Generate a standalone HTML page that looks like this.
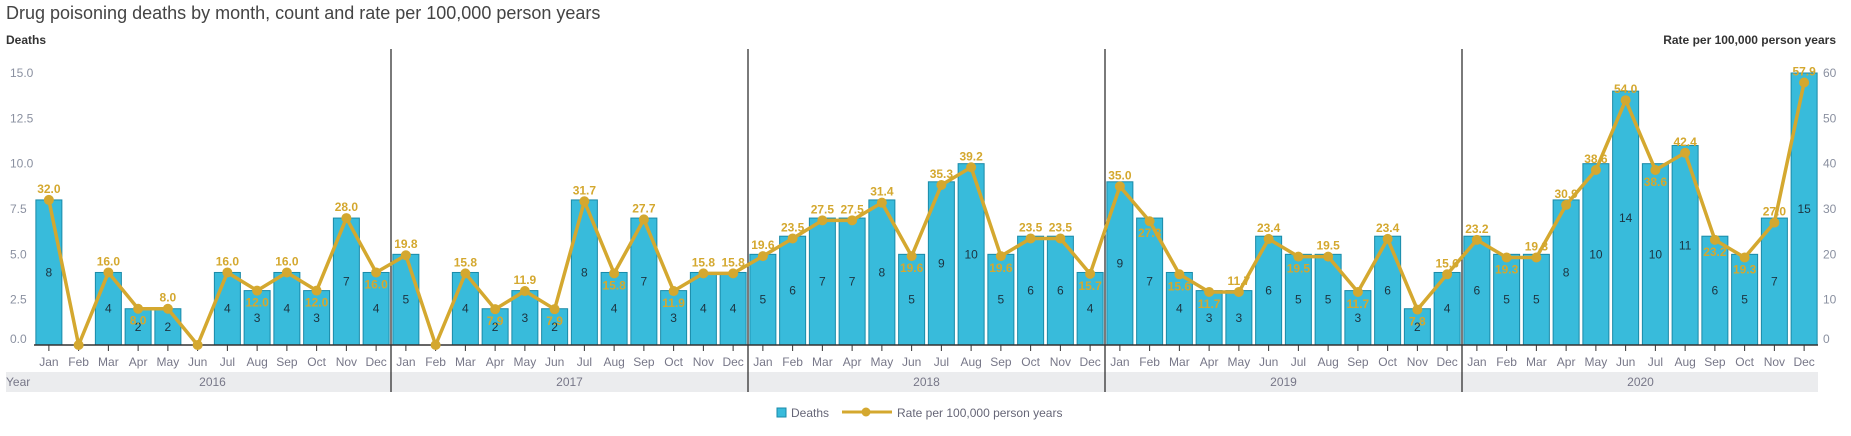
<!DOCTYPE html>
<html><head><meta charset="utf-8"><style>
body{margin:0;background:#fff;font-family:"Liberation Sans",sans-serif}
svg{display:block}
</style></head><body>
<svg id="c" width="1851" height="436" xmlns="http://www.w3.org/2000/svg">
<text x="6" y="19" font-size="18" fill="#444">Drug poisoning deaths by month, count and rate per 100,000 person years</text>
<text x="6" y="44" font-size="12" font-weight="bold" fill="#333">Deaths</text>
<text x="1836" y="44" font-size="12" font-weight="bold" fill="#333" text-anchor="end">Rate per 100,000 person years</text>
<g id="g"></g>
<g>
<rect x="777" y="408" width="9" height="9" fill="#38bbdb" stroke="#1a8aa8"/>
<text x="791" y="417" font-size="12" fill="#667">Deaths</text>
<line x1="842" y1="412" x2="892" y2="412" stroke="#d4a82f" stroke-width="3"/>
<circle cx="866" cy="412" r="4.5" fill="#d4a82f"/>
<text x="897" y="417" font-size="12" fill="#667">Rate per 100,000 person years</text>
</g>
</svg>
<script>
const years=["2016","2017","2018","2019","2020"];
const months=["Jan","Feb","Mar","Apr","May","Jun","Jul","Aug","Sep","Oct","Nov","Dec"];
const deaths=[8,0,4,2,2,0,4,3,4,3,7,4, 5,0,4,2,3,2,8,4,7,3,4,4, 5,6,7,7,8,5,9,10,5,6,6,4, 9,7,4,3,3,6,5,5,3,6,2,4, 6,5,5,8,10,14,10,11,6,5,7,15];
const rates=[32.0,0,16.0,8.0,8.0,0,16.0,12.0,16.0,12.0,28.0,16.0, 19.8,0,15.8,7.9,11.9,7.9,31.7,15.8,27.7,11.9,15.8,15.8, 19.6,23.5,27.5,27.5,31.4,19.6,35.3,39.2,19.6,23.5,23.5,15.7, 35.0,27.3,15.6,11.7,11.7,23.4,19.5,19.5,11.7,23.4,7.8,15.6, 23.2,19.3,19.3,30.9,38.6,54.0,38.6,42.4,23.2,19.3,27.0,57.9];
const leftTicks=[0,2.5,5,7.5,10,12.5,15];
const rightTicks=[0,10,20,30,40,50,60];

const NS="http://www.w3.org/2000/svg";
const g=document.getElementById('g');
const X0=34,STEP=29.75,BASE=345,TOP=73;
const yD=v=>BASE-(BASE-TOP)*v/15;
const yR=v=>BASE-(BASE-TOP)*v/60;
const xC=i=>X0+STEP*(i+0.5);
function el(t,a){const e=document.createElementNS(NS,t);for(const k in a)e.setAttribute(k,a[k]);g.appendChild(e);return e;}

// year band
let band=el('rect',{x:6,y:372,width:1812,height:20,fill:'#ebecee'});


let yl=el('text',{x:6,y:386,'font-size':12,fill:'#778'});yl.textContent='Year';



leftTicks.forEach(v=>{
  let y=yD(v)+4; if(v===0)y-=6;
  const t=el('text',{x:10,y:y,'font-size':12,fill:'#8a90a0'});t.textContent=v.toFixed(1);
  
  
});
rightTicks.forEach(v=>{
  let y=yR(v)+4; if(v===0)y-=6;
  const t=el('text',{x:1823,y:y,'font-size':12,fill:'#8a90a0'});t.textContent=v;
  
  
});

deaths.forEach((d,i)=>{
  const cx=xC(i);
  if(d>0){
    const b=el('rect',{x:cx-13,y:yD(d),width:26,height:BASE-yD(d),fill:'#38bbdb',stroke:'#1a8aa8','stroke-width':1});
    
    
    const t=el('text',{x:cx,y:(yD(d)+BASE)/2+4,'font-size':12,fill:'#1c3340','text-anchor':'middle'});t.textContent=d;
    
    
  }
  const tk=el('line',{x1:cx,y1:BASE,x2:cx,y2:351,stroke:'#333'});
  
  
  const m=el('text',{x:cx,y:366,'font-size':12,fill:'#778','text-anchor':'middle'});m.textContent=months[i%12];
  
  
});
years.forEach((yr,k)=>{
  const t=el('text',{x:X0+STEP*12*(k+0.5),y:386,'font-size':12,fill:'#778','text-anchor':'middle'});t.textContent=yr;
  
  
  if(k>0){
    const l=el('line',{x1:X0+STEP*12*k,y1:49,x2:X0+STEP*12*k,y2:392,stroke:'#222','stroke-width':1.2});
    
    
  }
});
const ax=el('line',{x1:X0,y1:BASE,x2:1818,y2:BASE,stroke:'#333','stroke-width':1.5});



const pl=el('polyline',{points:rates.map((r,i)=>xC(i)+','+yR(r)).join(' '),fill:'none',stroke:'#d4a82f','stroke-width':3.5,'stroke-linejoin':'round'});


rates.forEach((r,i)=>{
  const c=el('circle',{cx:xC(i),cy:yR(r),r:5,fill:'#d4a82f'});
  
  
  if(r>0){
    const below=i>0&&r<rates[i-1];
    const t=el('text',{x:xC(i),y:below?yR(r)+16:yR(r)-7,'font-size':12,'font-weight':'bold',fill:'#d4a82f','text-anchor':'middle'});
    t.textContent=r.toFixed(1);
    
    
  }
});
</script>
</body></html>
